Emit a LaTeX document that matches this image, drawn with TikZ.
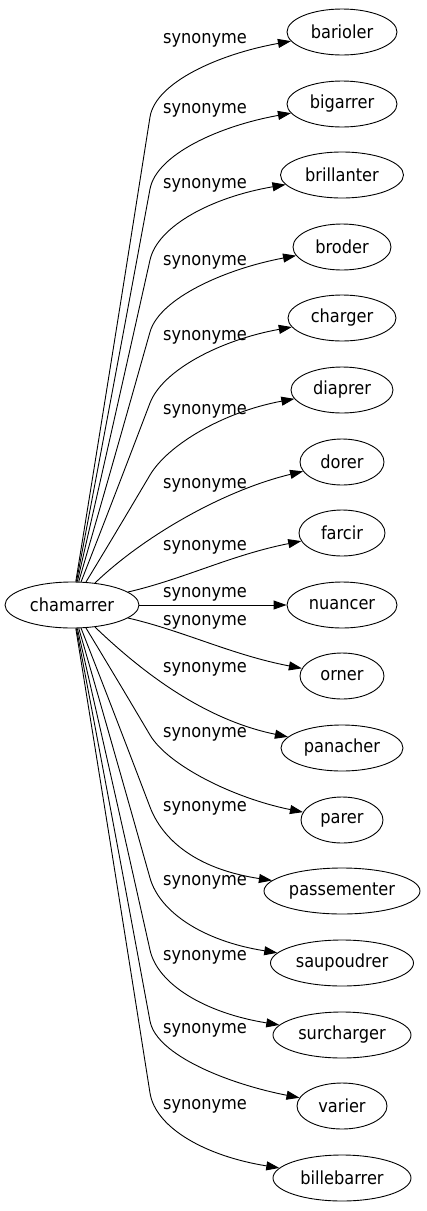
\documentclass[tikz,border=0pt]{standalone}
\usepackage{fontspec}
\setmainfont{DejaVu Sans}[FakeStretch=0.9]
\usetikzlibrary{shapes.geometric,arrows.meta}

\tikzset{
  word/.style={ellipse, draw, line width=0.9pt, inner sep=0pt, minimum height=46pt, font=\fontsize{18pt}{20pt}\selectfont},
  rel/.style={inner sep=0pt, font=\fontsize{18pt}{20pt}\selectfont},
  syn/.style={line width=0.9pt, -{Triangle[length=13pt,width=9pt]}}
}

\begin{document}
\begin{tikzpicture}[x=1pt,y=1pt,yscale=-1,xscale=1]
\useasboundingbox (0,0) rectangle (426,1211);

% Word Nodes
\node [word, minimum width=134pt] (chamarrer) at (72,605) {chamarrer};
\node [word, minimum width=110pt] (barioler) at (342,32) {barioler};
\node [word, minimum width=110pt] (bigarrer) at (342,104) {bigarrer};
\node [word, minimum width=123pt] (brillanter) at (342,175) {brillanter};
\node [word, minimum width=98pt] (broder) at (342,247) {broder};
\node [word, minimum width=108pt] (charger) at (342,318) {charger};
\node [word, minimum width=102pt] (diaprer) at (342,390) {diaprer};
\node [word, minimum width=84pt] (dorer) at (342,462) {dorer};
\node [word, minimum width=86pt] (farcir) at (342,533) {farcir};
\node [word, minimum width=110pt] (nuancer) at (342,605) {nuancer};
\node [word, minimum width=84pt] (orner) at (342,676) {orner};
\node [word, minimum width=122pt] (panacher) at (342,748) {panacher};
\node [word, minimum width=82pt] (parer) at (342,820) {parer};
\node [word, minimum width=156pt] (passementer) at (342,891) {passementer};
\node [word, minimum width=143pt] (saupoudrer) at (342,963) {saupoudrer};
\node [word, minimum width=138pt] (surcharger) at (342,1035) {surcharger};
\node [word, minimum width=90pt] (varier) at (342,1106) {varier};
\node [word, minimum width=138pt] (billebarrer) at (342,1178) {billebarrer};

%Curve Lines
\draw [syn] (chamarrer) .. controls (111.5,361) and (130.75,239) .. (150,117) .. controls (155.5,82.4) and (219,54) .. (barioler);
\draw [syn] (chamarrer) .. controls (111.5,397) and (130.75,293) .. (150,189) .. controls (156.4,154.6) and (219,126) .. (bigarrer);
\draw [syn] (chamarrer) .. controls (111.5,432.5) and (130.75,346) .. (150,260) .. controls (157.6,225.8) and (212.5,197) .. (brillanter);
\draw [syn] (chamarrer) .. controls (111.5,468.5) and (130.75,400) .. (150,332) .. controls (159.5,298.3) and (225,269) .. (broder);
\draw [syn] (chamarrer) .. controls (111.5,504) and (130.75,453.5) .. (150,403) .. controls (162.5,370.3) and (220,340) .. (charger);
\draw [syn] (chamarrer) .. controls (111.5,540) and (130.75,507.5) .. (150,475) .. controls (167.9,444.9) and (223,412) .. (diaprer);
\draw [syn] (chamarrer) .. controls (145,535) and (225,490) .. (dorer);
\draw [syn] (chamarrer) .. controls (184,579) and (231,555) .. (farcir);
%Straight Lines
\draw [syn] (chamarrer) -- (nuancer);
%Curve Lines
\draw [syn] (chamarrer) .. controls (184,631) and (232,655) .. (orner);
\draw [syn] (chamarrer) .. controls (145,675) and (206,720) .. (panacher);
\draw [syn] (chamarrer) .. controls (111.5,670) and (130.75,702.5) .. (150,735) .. controls (167.9,765.1) and (233,798) .. (parer);
\draw [syn] (chamarrer) .. controls (111.5,706) and (130.75,756.5) .. (150,807) .. controls (162.5,839.7) and (196,869) .. (passementer);
\draw [syn] (chamarrer) .. controls (111.5,741.5) and (130.75,810) .. (150,878) .. controls (159.5,911.7) and (202.5,941) .. (saupoudrer);
\draw [syn] (chamarrer) .. controls (111.5,777.5) and (130.75,864) .. (150,950) .. controls (157.6,984.2) and (205,1013) .. (surcharger);
\draw [syn] (chamarrer) .. controls (111.5,813) and (130.75,917) .. (150,1021) .. controls (156.4,1055.4) and (229,1084) .. (varier);
\draw [syn] (chamarrer) .. controls (111.5,849) and (130.75,971) .. (150,1093) .. controls (155.5,1127.6) and (205,1156) .. (billebarrer);

% Text Node
\node [rel] (lbarioler) at (205,40) {synonyme};
\node [rel] (lbigarrer) at (205,110) {synonyme};
\node [rel] (lbrillanter) at (205,185) {synonyme};
\node [rel] (lbroder) at (205,262) {synonyme};
\node [rel] (lcharger) at (205,337) {synonyme};
\node [rel] (ldiaprer) at (205,411) {synonyme};
\node [rel] (ldorer) at (205,485) {synonyme};
\node [rel] (lfarcir) at (205,547) {synonyme};
\node [rel] (lnuancer) at (205,594) {synonyme};
\node [rel] (lorner) at (205,622) {synonyme};
\node [rel] (lpanacher) at (205,669) {synonyme};
\node [rel] (lparer) at (205,734) {synonyme};
\node [rel] (lpassementer) at (205,808) {synonyme};
\node [rel] (lsaupoudrer) at (205,882) {synonyme};
\node [rel] (lsurcharger) at (205,957) {synonyme};
\node [rel] (lvarier) at (205,1030) {synonyme};
\node [rel] (lbillebarrer) at (205,1106) {synonyme};

\end{tikzpicture}
\end{document}
